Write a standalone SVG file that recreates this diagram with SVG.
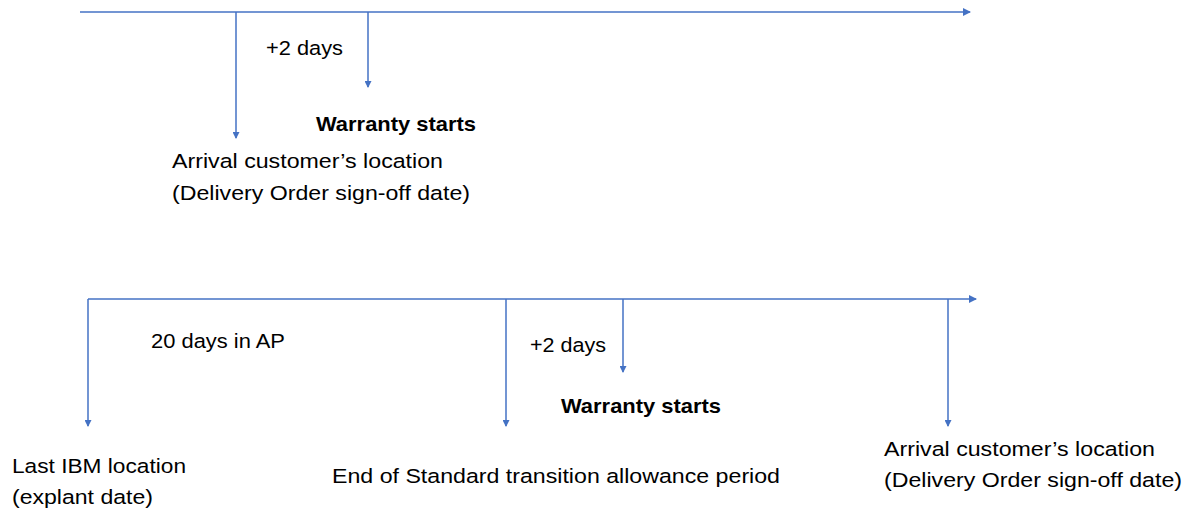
<svg xmlns="http://www.w3.org/2000/svg" width="1199" height="510" viewBox="0 0 1199 510">
<style>
.ln{stroke:#4472C4;stroke-width:1.5;fill:none}
.t{font-family:"Liberation Sans",Arial,sans-serif;font-size:20.5px;fill:#000}
.b{font-weight:bold}
</style>
<defs>
<marker id="ah" markerWidth="8" markerHeight="8" refX="7" refY="4" orient="auto" markerUnits="userSpaceOnUse">
<path d="M0,0 L8,4 L0,8 Z" fill="#4472C4"/>
</marker>
<marker id="ahs" markerWidth="7" markerHeight="7" refX="6" refY="3.5" orient="auto" markerUnits="userSpaceOnUse">
<path d="M0,0 L7,3.5 L0,7 Z" fill="#4472C4"/>
</marker>
</defs>
<g id="connectors">
<line class="ln" x1="80" y1="12" x2="970" y2="12" marker-end="url(#ah)"/>
<line class="ln" x1="236" y1="12" x2="236" y2="138" marker-end="url(#ahs)"/>
<line class="ln" x1="368" y1="12" x2="368" y2="87" marker-end="url(#ahs)"/>
<line class="ln" x1="88" y1="299" x2="976" y2="299" marker-end="url(#ah)"/>
<line class="ln" x1="88" y1="299" x2="88" y2="426" marker-end="url(#ahs)"/>
<line class="ln" x1="506" y1="299" x2="506" y2="426" marker-end="url(#ahs)"/>
<line class="ln" x1="623" y1="299" x2="623" y2="372" marker-end="url(#ahs)"/>
<line class="ln" x1="948" y1="299" x2="948" y2="426" marker-end="url(#ahs)"/>
</g>
<g id="top-plus2"><text class="t" x="266" y="55" textLength="77" lengthAdjust="spacingAndGlyphs">+2 days</text></g>
<g id="top-warranty"><text class="t b" x="316" y="131" textLength="160" lengthAdjust="spacingAndGlyphs">Warranty starts</text></g>
<g id="top-arrival">
<text class="t" x="172" y="168" textLength="271" lengthAdjust="spacingAndGlyphs">Arrival customer’s location</text>
<text class="t" x="172" y="200" textLength="298" lengthAdjust="spacingAndGlyphs">(Delivery Order sign-off date)</text>
</g>
<g id="bot-20days"><text class="t" x="151" y="348" textLength="134" lengthAdjust="spacingAndGlyphs">20 days in AP</text></g>
<g id="bot-plus2"><text class="t" x="530" y="352" textLength="76" lengthAdjust="spacingAndGlyphs">+2 days</text></g>
<g id="bot-warranty"><text class="t b" x="561" y="413" textLength="160" lengthAdjust="spacingAndGlyphs">Warranty starts</text></g>
<g id="bot-lastibm">
<text class="t" x="12" y="473" textLength="174" lengthAdjust="spacingAndGlyphs">Last IBM location</text>
<text class="t" x="12" y="504" textLength="141" lengthAdjust="spacingAndGlyphs">(explant date)</text>
</g>
<g id="bot-end"><text class="t" x="332" y="483" textLength="448" lengthAdjust="spacingAndGlyphs">End of Standard transition allowance period</text></g>
<g id="bot-arrival">
<text class="t" x="884" y="456" textLength="271" lengthAdjust="spacingAndGlyphs">Arrival customer’s location</text>
<text class="t" x="884" y="487" textLength="298" lengthAdjust="spacingAndGlyphs">(Delivery Order sign-off date)</text>
</g>
</svg>
